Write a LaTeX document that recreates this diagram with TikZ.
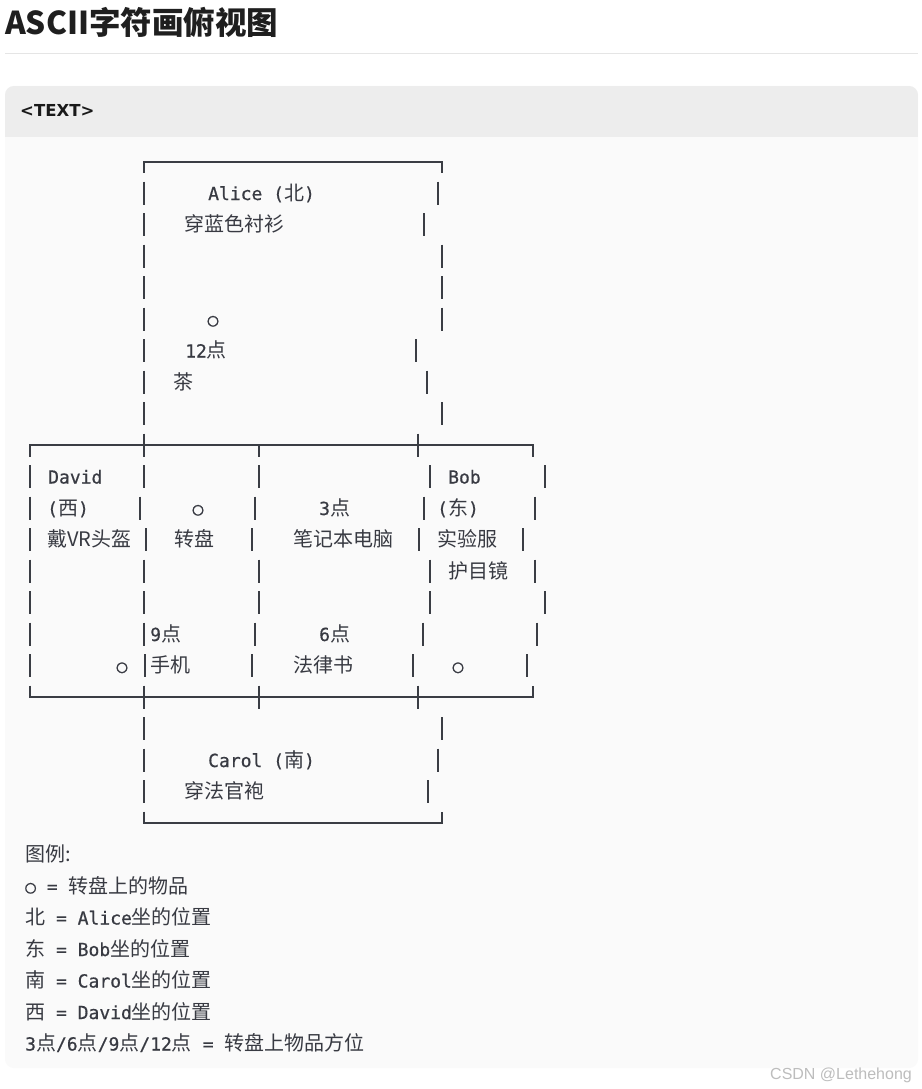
\documentclass[tikz,border=0pt]{standalone}
\usepackage{fontspec}
\newfontfamily\mono{DejaVu Sans Mono}[FakeBold=0.6]
\newfontfamily\cjk{Noto Sans CJK SC}
\newfontfamily\dvs{DejaVu Sans}
\newfontfamily\wmfont{Liberation Sans}
\newcommand\zh[1]{{\cjk\fontsize{20}{22}\selectfont #1}}
\definecolor{lc}{HTML}{3A3D44}
\definecolor{tc}{HTML}{383A42}
\definecolor{codebg}{HTML}{FAFAFA}
\definecolor{hdrbg}{HTML}{EDEDED}
\definecolor{sep}{HTML}{E5E5E5}
\definecolor{wmc}{HTML}{BDBDBD}
\tikzset{
  ln/.style={draw=lc, line width=2},
  tx/.style={anchor=base west, inner sep=0, text=tc, font=\mono\fontsize{18}{22}\selectfont},
  dot/.style={tx, anchor=base},
}
\begin{document}
\begin{tikzpicture}[x=1pt,y=-1pt]
\useasboundingbox (0,0) rectangle (921,1089);
\fill[white] (0,0) rectangle (921,1089);
% title
\node[anchor=base west, inner sep=0, text=black!88, font=\cjk\bfseries\fontsize{31.5}{34}\selectfont] (title) at (5,35) {ASCII字符画俯视图};
\draw[sep, line width=1] (5,54) -- (918,54);
% code block
\fill[codebg, rounded corners=9] (5,86) rectangle (918,1068);
\begin{scope}
  \clip[rounded corners=9] (5,86) rectangle (918,1068);
  \fill[hdrbg] (5,86) rectangle (918,137);
\end{scope}
\node[anchor=base west, inner sep=0, text=black!90, font=\dvs\bfseries\fontsize{16.5}{20}\selectfont] (hdr) at (20,117) {<TEXT>};

% borders
\draw[ln] (144,172.5) -- (144,161.5) -- (442,161.5) -- (442,172.5);
\draw[ln] (30,456.5) -- (30,445) -- (533,445) -- (533,456.5);
\draw[ln] (144,433.5) -- (144,456.5);
\draw[ln] (259,445) -- (259,456.5);
\draw[ln] (418,433.5) -- (418,456.5);
\draw[ln] (30,685.5) -- (30,697) -- (533,697) -- (533,685.5);
\draw[ln] (144,685.5) -- (144,708.5);
\draw[ln] (259,685.5) -- (259,708.5);
\draw[ln] (418,685.5) -- (418,708.5);
\draw[ln] (144,811.5) -- (144,823) -- (442,823) -- (442,811.5);

% vertical bar pieces
\foreach \x/\y in {144/193,438/193, 144/224.5,424/224.5, 144/256,442/256, 144/287.5,442/287.5,
  144/319,442/319, 144/350.5,416/350.5, 144/382,427/382, 144/413.5,442/413.5,
  30/476.5,144/476.5,259/476.5,430/476.5,545/476.5,
  30/508,140/508,255/508,424/508,535/508,
  30/539.5,146/539.5,252/539.5,419/539.5,523/539.5,
  30/571,144/571,259/571,430/571,535/571,
  30/602.5,144/602.5,259/602.5,430/602.5,545/602.5,
  30/634,144/634,255/634,423/634,537/634,
  30/665.5,145/665.5,252/665.5,413/665.5,527/665.5,
  144/728.5,442/728.5, 144/760,438/760, 144/791.5,428/791.5}
  \draw[ln] (\x,\y-11.5) -- (\x,\y+11.5);

% north
\node[tx] (alice) at (208,200) {Alice (\zh{北})};
\node[tx] (aliceC) at (184,231.5) {\zh{穿蓝色衬衫}};
\node[dot] (o12) at (213,326) {○};
\node[tx] (t12) at (185,357.5) {12\zh{点}};
\node[tx] (tea) at (173,389) {\zh{茶}};
% middle
\node[tx] (david) at (48,483.5) {David};
\node[tx] (west) at (47,515) {(\zh{西})};
\node[tx] (vr) at (47,546.5) {\zh{戴VR头盔}};
\node[dot] (oc) at (198,515) {○};
\node[tx] (tt) at (174,546.5) {\zh{转盘}};
\node[tx] (t3) at (319,515) {3\zh{点}};
\node[tx] (laptop) at (293,546.5) {\zh{笔记本电脑}};
\node[tx] (bob) at (448,483.5) {Bob};
\node[tx] (east) at (437,515) {(\zh{东})};
\node[tx] (lab) at (437,546.5) {\zh{实验服}};
\node[tx] (gog) at (448,578) {\zh{护目镜}};
\node[tx] (t9) at (150,641) {9\zh{点}};
\node[tx] (phone) at (150,672.5) {\zh{手机}};
\node[dot] (ow) at (122,672.5) {○};
\node[tx] (t6) at (319,641) {6\zh{点}};
\node[tx] (law) at (293,672.5) {\zh{法律书}};
\node[dot] (oe) at (458,672.5) {○};
% south
\node[tx] (carol) at (208,767) {Carol (\zh{南})};
\node[tx] (carolC) at (184,798.5) {\zh{穿法官袍}};

% legend
\node[tx] (lg0) at (25,861.5) {\zh{图例:}};
\node[tx] (lg1) at (25,893) {○ = \zh{转盘上的物品}};
\node[tx] (lg2) at (25,924.5) {\zh{北} = Alice\zh{坐的位置}};
\node[tx] (lg3) at (25,956) {\zh{东} = Bob\zh{坐的位置}};
\node[tx] (lg4) at (25,987.5) {\zh{南} = Carol\zh{坐的位置}};
\node[tx] (lg5) at (25,1019) {\zh{西} = David\zh{坐的位置}};
\node[tx] (lg6) at (25,1050.5) {3\zh{点}/6\zh{点}/9\zh{点}/12\zh{点} = \zh{转盘上物品方位}};

% watermark
\node[anchor=base west, inner sep=0, text=wmc, font=\wmfont\fontsize{16}{18}\selectfont] (wm) at (770,1079) {CSDN @Lethehong};
\end{tikzpicture}
\end{document}
